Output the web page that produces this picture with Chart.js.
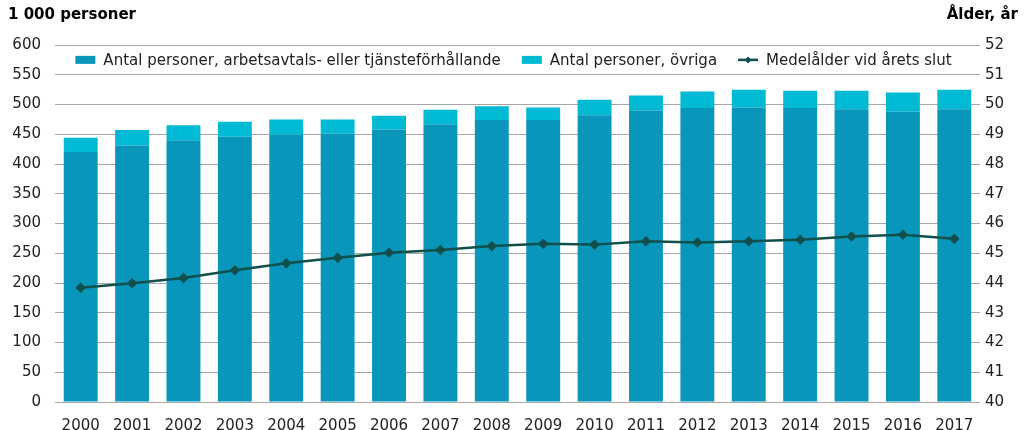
<!DOCTYPE html>
<html>
<head>
<meta charset="utf-8">
<script src="https://cdn.jsdelivr.net/npm/chart.js@4.4.1/dist/chart.umd.min.js"></script>
<style>
  html, body { margin: 0; padding: 0; background: #fff; }
  #wrap { width: 1024px; height: 430px; position: relative; }
</style>
</head>
<body>
<div id="wrap"><canvas id="c"></canvas></div>
<script>
// chart data
const years = ['2000','2001','2002','2003','2004','2005','2006','2007','2008','2009','2010','2011','2012','2013','2014','2015','2016','2017'];
const employed = [420, 431, 440, 446, 449, 451, 458, 467, 474, 474, 482, 490, 494, 495, 494, 492, 488, 492];
const others = [24, 26, 25, 25, 26, 24, 23, 24, 23, 21, 26, 25, 28, 30, 29, 31, 32, 33];
const meanAge = [43.84, 43.99, 44.17, 44.43, 44.66, 44.85, 45.02, 45.11, 45.24, 45.32, 45.29, 45.40, 45.36, 45.40, 45.45, 45.56, 45.62, 45.49];

const leftTitle = '1 000 personer';
const rightTitle = 'Ålder, år';

const FONT = "'DejaVu Sans', Verdana, sans-serif";
const darkBlue = '#0996BB';
const lightBlue = '#00BAD3';
const lineColor = '#0F4F4C';

//titles above the axes
const axisTitles = {
  id: 'axisTitles',
  afterDraw(chart) {
    const ctx = chart.ctx;
    ctx.save();
    ctx.fillStyle = '#000';
    ctx.font = 'bold 15px ' + FONT;
    ctx.textBaseline = 'middle';
    ctx.textAlign = 'left';
    ctx.fillText(leftTitle, 8, 15);
    ctx.textAlign = 'right';
    ctx.fillText(rightTitle, 1018, 15);
    ctx.restore();
  }
};

//legend drawn inside the plot, one row between the two top gridlines
const innerLegend = {
  id: 'innerLegend',
  afterDatasetsDraw(chart) {
    const ctx = chart.ctx;
    const area = chart.chartArea;
    const y = (chart.scales.y.getPixelForValue(600) + chart.scales.y.getPixelForValue(550)) / 2;
    const items = [1, 2, 0].map((i) => chart.data.datasets[i]);
    ctx.save();
    ctx.font = '15px ' + FONT;
    const sym = 20, gap = 8, space = 21;
    const widths = items.map((d) => ctx.measureText(d.label).width);
    const total = widths.reduce((a, b) => a + b, 0) + items.length * (sym + gap) + (items.length - 1) * space;
    let x = (area.left + area.right) / 2 - total / 2 - 4;
    ctx.textBaseline = 'middle';
    ctx.textAlign = 'left';
    items.forEach((d, k) => {
      if (d.type === 'line') {
        ctx.strokeStyle = d.borderColor; ctx.lineWidth = 2.5;
        ctx.beginPath(); ctx.moveTo(x, y); ctx.lineTo(x + sym, y); ctx.stroke();
        ctx.fillStyle = d.borderColor;
        const cx = x + sym / 2;
        ctx.beginPath(); ctx.moveTo(cx, y - 3.5); ctx.lineTo(cx + 3.5, y); ctx.lineTo(cx, y + 3.5); ctx.lineTo(cx - 3.5, y); ctx.closePath(); ctx.fill();
      } else {
        ctx.fillStyle = d.backgroundColor;
        ctx.fillRect(x, y - 4, sym, 8);
      }
      ctx.fillStyle = '#222';
      ctx.fillText(d.label, x + sym + gap, y + 1);
      x += sym + gap + widths[k] + space;
    });
    ctx.restore();
  }
};

new Chart(document.getElementById('c'), {
  data: {
    labels: years,
    datasets: [
      {
        type: 'line',
        label: 'Medelålder vid årets slut',
        data: meanAge,
        yAxisID: 'y1',
        borderColor: lineColor,
        backgroundColor: lineColor,
        borderWidth: 2.5,
        pointStyle: 'rectRot',
        pointRadius: 3.5,
        tension: 0,
        order: 0,
      },
      {
        type: 'bar',
        label: 'Antal personer, arbetsavtals- eller tjänsteförhållande',
        data: employed,
        backgroundColor: darkBlue,
        stack: 's',
        barPercentage: 0.66,
        categoryPercentage: 1,
        order: 1,
      },
      {
        type: 'bar',
        label: 'Antal personer, övriga',
        data: others,
        backgroundColor: lightBlue,
        stack: 's',
        barPercentage: 0.66,
        categoryPercentage: 1,
        order: 1,
      },
    ],
  },
  options: {
    responsive: true,
    maintainAspectRatio: false,
    animation: false,
    layout: { padding: { top: 45, left: 0, right: 0, bottom: 0 } },
    plugins: {
      tooltip: { enabled: false },
      legend: { display: false },
    },
    scales: {
      x: {
        stacked: true,
        grid: { display: false },
        border: { display: false },
        ticks: { font: { family: FONT, size: 15 }, color: '#222', padding: 7, maxRotation: 0 },
        afterFit(scale) { scale.height = 28; },
      },
      y: {
        stacked: true,
        position: 'left',
        min: 0,
        max: 600,
        ticks: { stepSize: 50, font: { family: FONT, size: 15 }, color: '#222', padding: 14 },
        grid: { color: '#A6A6A6', lineWidth: 1, drawTicks: false },
        border: { display: false },
        afterFit(scale) { scale.width = 55; },
      },
      y1: {
        position: 'right',
        min: 40,
        max: 52,
        ticks: { stepSize: 1, font: { family: FONT, size: 15 }, color: '#222', padding: 5 },
        grid: { display: false, drawTicks: false },
        border: { display: false },
        afterFit(scale) { scale.width = 44; },
      },
    },
  },
  plugins: [axisTitles, innerLegend],
});
</script>
</body>
</html>
